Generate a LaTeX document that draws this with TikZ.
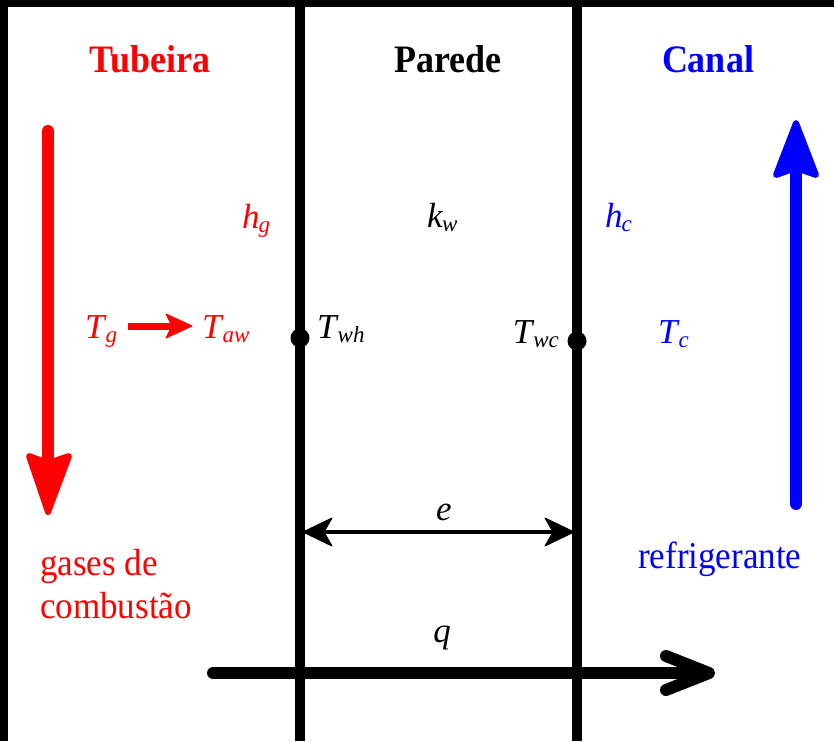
\documentclass[tikz,border=0pt]{standalone}
\usepackage{fontspec}
\setmainfont{Liberation Serif}
\newcommand{\msym}[2]{\textit{#1}\kern-0.03em\raisebox{-4pt}{\fontsize{23}{23}\selectfont\textit{#2}}}
\definecolor{pred}{RGB}{255,0,0}
\definecolor{pblue}{RGB}{0,0,255}
\begin{document}
\begin{tikzpicture}[x=1pt,y=-1pt,
  lbl/.style={inner sep=0pt, font=\fontsize{35}{40}\selectfont},
  ttl/.style={inner sep=0pt, anchor=base, font=\fontsize{36}{40}\selectfont\bfseries},
  wall/.style={line width=9.5pt},
  flow/.style={line width=12pt, line cap=round},
  headfill/.style={line width=6pt, line join=round},
  dot/.style={circle, fill=black, inner sep=0pt, minimum size=19pt}]
\useasboundingbox (0,0) rectangle (834,741);
\fill[white] (0,0) rectangle (834,741);
% frame
\fill[black] (0,0) rectangle (834,7);
\fill[black] (0,0) rectangle (8,741);
% walls
\coordinate (w1t) at (300,0); \coordinate (w1b) at (300,741);
\coordinate (w2t) at (577,0); \coordinate (w2b) at (577,741);
\draw[wall] (w1t) -- (w1b);
\draw[wall] (w2t) -- (w2b);
% titles
\node[ttl, text=pred, yscale=1.08] (tub) at (150,73) {Tubeira};
\node[ttl, text=black, yscale=1.08] (par) at (448,73) {Parede};
\node[ttl, text=pblue, yscale=1.08] (can) at (708,73) {Canal};
% red flow arrow
\coordinate (rs) at (48,131); \coordinate (re) at (48,462);
\draw[flow, pred] (rs) -- (re);
\filldraw[pred, headfill] (29,456) -- (48,512) -- (69,456) -- (48,463) -- cycle;
% blue flow arrow
\coordinate (bs) at (796,504); \coordinate (be) at (796,170);
\draw[flow, pblue] (bs) -- (be);
\filldraw[pblue, headfill] (776,175) -- (796,123) -- (816,175) -- (796,168) -- cycle;
% coefficients
\node[lbl, anchor=base west, text=pred] (hg) at (242,228) {\msym{h}{g}};
\node[lbl, anchor=base west] (kw) at (427,227) {\msym{k}{w}};
\node[lbl, anchor=base west, text=pblue] (hc) at (605,227) {\msym{h}{c}};
% temperatures
\node[lbl, anchor=base west, text=pred] (Tg) at (85,338) {\msym{T}{g}};
\node[lbl, anchor=base west, text=pred] (Taw) at (202,338) {\msym{T}{aw}};
\node[lbl, anchor=base west] (Twh) at (317,338) {\msym{T}{wh}};
\node[lbl, anchor=base east] (Twc) at (559,343) {\msym{T}{wc}};
\node[lbl, anchor=base west, text=pblue] (Tc) at (658,343) {\msym{T}{c}};
\node[dot] (d1) at (300,338) {};
\node[dot] (d2) at (577,341) {};
% Tg -> Taw arrow
\coordinate (ta) at (128,326); \coordinate (tb) at (172,326);
\draw[pred, line width=7pt] (ta) -- (tb);
\filldraw[pred, line width=1pt, line join=round] (166,314) -- (192,326) -- (166,338) -- (172,326) -- cycle;
% thickness e
\coordinate (e1) at (312,532); \coordinate (e2) at (563,532);
\draw[line width=3.5pt] (e1) -- (e2);
\filldraw[line width=1pt, line join=round] (303,532) -- (332,518) -- (324,532) -- (332,546) -- cycle;
\filldraw[line width=1pt, line join=round] (574,532) -- (545,518) -- (553,532) -- (545,546) -- cycle;
\node[lbl, anchor=base] (e) at (444,520) {\textit{e}};
% heat flux q
\coordinate (q1) at (213,673); \coordinate (q2) at (708,673);
\draw[flow] (q1) -- (q2);
\draw[flow, line join=round] (666,656) -- (709,673) -- (666,690);
\node[lbl, anchor=base] (q) at (442,642) {\textit{q}};
% fluid names
\node[lbl, anchor=base west, text=pred, yscale=1.08] (g1) at (40,575) {gases de};
\node[lbl, anchor=base west, text=pred, yscale=1.08] (g2) at (40,618) {combustão};
\node[lbl, anchor=base west, text=pblue, yscale=1.08] (ref) at (638,568) {refrigerante};
\end{tikzpicture}
\end{document}
